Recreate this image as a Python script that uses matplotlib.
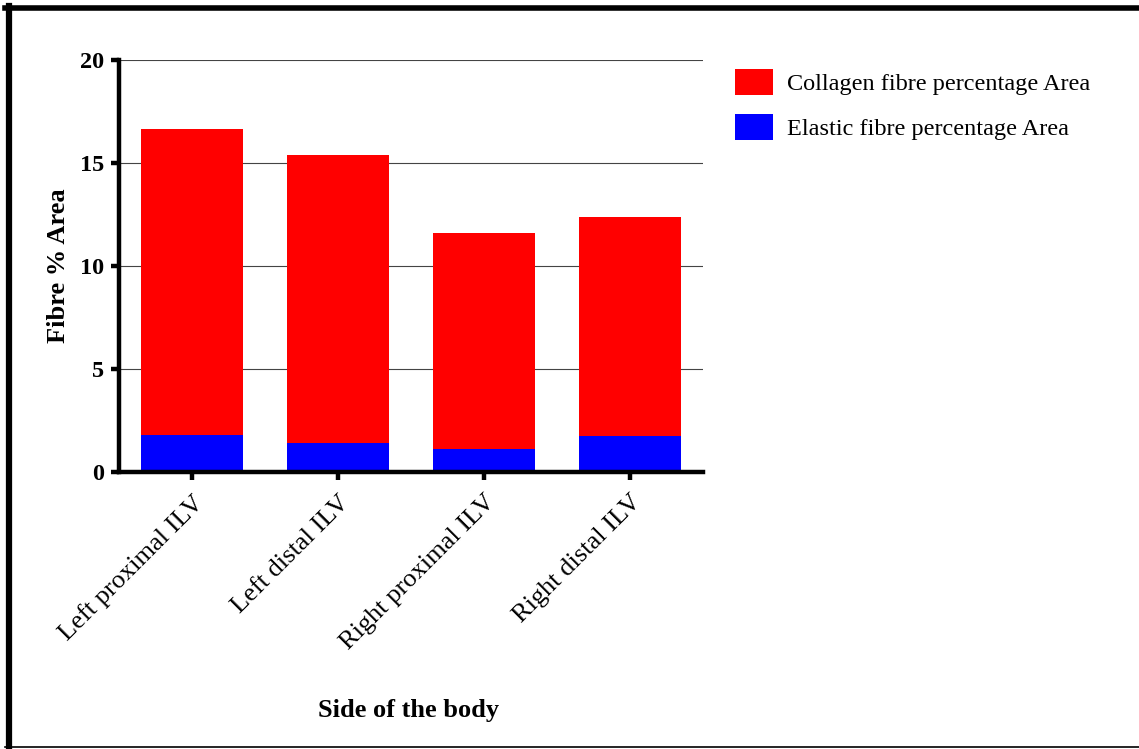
import matplotlib
matplotlib.use('Agg')
import matplotlib.pyplot as plt
from matplotlib.lines import Line2D
from matplotlib.transforms import ScaledTranslation
import numpy as np

plt.rcParams['font.family'] = ['Liberation Serif', 'DejaVu Serif']

categories = ['Left proximal ILV', 'Left distal ILV', 'Right proximal ILV', 'Right distal ILV']
elastic = [1.78, 1.38, 1.12, 1.75]
collagen = [14.86, 13.99, 10.48, 10.62]
yticks = [0, 5, 10, 15, 20]

fig = plt.figure(figsize=(11.39, 7.49), dpi=100)
ax = fig.add_axes([0.1049, 0.3702, 0.5123, 0.5497])

x = np.arange(len(categories))
ax.bar(x, collagen, width=0.7, bottom=elastic, color='#ff0000',
       label='Collagen fibre percentage Area', zorder=3)
ax.bar(x, elastic, width=0.7, color='#0000ff',
       label='Elastic fibre percentage Area', zorder=3)

ax.set_xlim(-0.5, 3.5)
ax.set_ylim(0, 20)
ax.set_yticks(yticks)
ax.set_yticklabels([str(v) for v in yticks], fontsize=17.5, fontweight='bold')
ax.set_xticks(x)
ax.set_xticklabels(categories, fontsize=19, rotation=45, ha='right', va='top',
                   rotation_mode='anchor')
shift = ScaledTranslation(-8 / 100, -2 / 100, fig.dpi_scale_trans)
for lab in ax.get_xticklabels():
    lab.set_transform(lab.get_transform() + shift)

ax.yaxis.grid(True, color='#444444', linewidth=0.8, zorder=0)
ax.set_axisbelow(True)

for side in ['top', 'right']:
    ax.spines[side].set_visible(False)
for side in ['left', 'bottom']:
    ax.spines[side].set_linewidth(3.2)
    ax.spines[side].set_zorder(4)
ax.tick_params(axis='both', direction='out', length=6, width=3.2, colors='black')
ax.tick_params(axis='y', pad=5)
ax.tick_params(axis='x', pad=8)

ax.set_ylabel('Fibre % Area', fontsize=19, fontweight='bold')
ax.yaxis.set_label_coords(-0.105, 0.5)
ax.yaxis.label.set_va('center')
ax.set_xlabel('Side of the body', fontsize=19, fontweight='bold')
ax.xaxis.set_label_coords(0.495, -0.58)
ax.xaxis.label.set_va('center')

leg = ax.legend(loc='upper left', bbox_to_anchor=(1.038, 1.002), frameon=False,
                fontsize=17.5, handlelength=1.55, handleheight=1.3,
                handletextpad=0.6, labelspacing=0.75, borderaxespad=0)

# page frame
fig.add_artist(Line2D([0.0075, 0.0075], [0.002, 0.9925], transform=fig.transFigure,
                      color='black', linewidth=4.5))
fig.add_artist(Line2D([0.0045, 1.0], [0.9895, 0.9895], transform=fig.transFigure,
                      color='black', linewidth=4.0))
fig.add_artist(Line2D([0.0045, 1.0], [0.003, 0.003], transform=fig.transFigure,
                      color='black', linewidth=1.2))

fig.savefig('out.png', dpi=100)
